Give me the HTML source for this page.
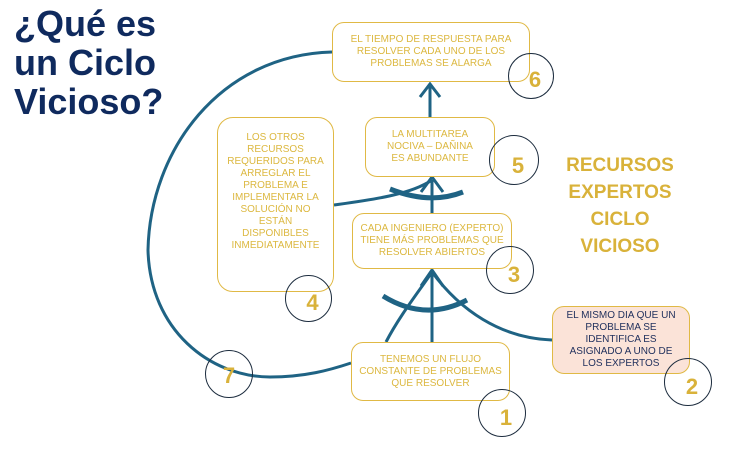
<!DOCTYPE html>
<html><head><meta charset="utf-8"><style>
body{margin:0;width:752px;height:458px;background:#fff;overflow:hidden;position:relative;font-family:"Liberation Sans",sans-serif}
.t{position:absolute;left:14px;top:4px;color:#0f2a5e;font-weight:bold;font-size:36px;line-height:39px}
.b{position:absolute;border:1.5px solid #e0b945;border-radius:12px;box-sizing:border-box;display:flex;align-items:center;justify-content:center;text-align:center;color:#dcb840;font-size:10px;line-height:12px;background:#fff}
.c{position:absolute;border:1.5px solid #1c2c3e;border-radius:50%;box-sizing:border-box;color:#d9b23a;font-weight:bold;font-size:22px;display:flex;align-items:flex-end;justify-content:center;padding:0 0 5px 8px}
.r{position:absolute;left:560px;top:152px;width:120px;text-align:center;color:#d9b23a;font-weight:bold;font-size:19px;line-height:27px}
</style></head><body>
<div class="t">¿Qué es<br>un Ciclo<br>Vicioso?</div>
<svg width="752" height="458" style="position:absolute;left:0;top:0" fill="none" stroke="#1f6384" stroke-width="3">
<path d="M332,52 C220,55 150,150 148,250 C150,330 210,377 270,377 C305,377 330,370 351,363"/>
<path d="M432,342 V272"/><path d="M386,342 C400,315 420,290 432,272"/><path d="M552,340 C500,338 460,310 432,272"/>
<path d="M383,296 Q425,322 467,300" stroke-width="5"/>
<path d="M421,286 L432,270 L443,286"/>
<path d="M432,213 V180"/><path d="M334,205 C370,200 410,195 432,180"/>
<path d="M390,189 Q430,205 463,192" stroke-width="5"/>
<path d="M421,192 L432,177 L443,192"/>
<path d="M430,117 V85"/><path d="M420,97 L430,84 L440,97"/>
</svg>
<div class="b" style="left:332px;top:22px;width:198px;height:60px">EL TIEMPO DE RESPUESTA PARA<br>RESOLVER CADA UNO DE LOS<br>PROBLEMAS SE ALARGA</div>
<div class="b" style="left:365px;top:117px;width:130px;height:60px">LA MULTITAREA<br>NOCIVA – DAÑINA<br>ES ABUNDANTE</div>
<div class="b" style="left:217px;top:117px;width:117px;height:175px;border-radius:16px;padding-bottom:25px">LOS OTROS<br>RECURSOS<br>REQUERIDOS PARA<br>ARREGLAR EL<br>PROBLEMA E<br>IMPLEMENTAR LA<br>SOLUCIÓN NO<br>ESTÁN<br>DISPONIBLES<br>INMEDIATAMENTE</div>
<div class="b" style="left:352px;top:213px;width:160px;height:56px">CADA INGENIERO (EXPERTO)<br>TIENE MÁS PROBLEMAS QUE<br>RESOLVER ABIERTOS</div>
<div class="b" style="left:552px;top:306px;width:138px;height:68px;background:#fbe3d8;color:#1f2f5c">EL MISMO DIA QUE UN<br>PROBLEMA SE<br>IDENTIFICA ES<br>ASIGNADO A UNO DE<br>LOS EXPERTOS</div>
<div class="b" style="left:351px;top:342px;width:159px;height:59px">TENEMOS UN FLUJO<br>CONSTANTE DE PROBLEMAS<br>QUE RESOLVER</div>
<div class="c" style="left:508px;top:53px;width:46px;height:46px">6</div>
<div class="c" style="left:489px;top:135px;width:50px;height:50px">5</div>
<div class="c" style="left:285px;top:275px;width:47px;height:47px">4</div>
<div class="c" style="left:486px;top:246px;width:48px;height:48px">3</div>
<div class="c" style="left:664px;top:358px;width:48px;height:48px">2</div>
<div class="c" style="left:478px;top:389px;width:48px;height:48px">1</div>
<div class="c" style="left:205px;top:350px;width:48px;height:48px;padding:0 0 8px 0">7</div>
<div class="r">RECURSOS<br>EXPERTOS<br>CICLO<br>VICIOSO</div>
</body></html>
